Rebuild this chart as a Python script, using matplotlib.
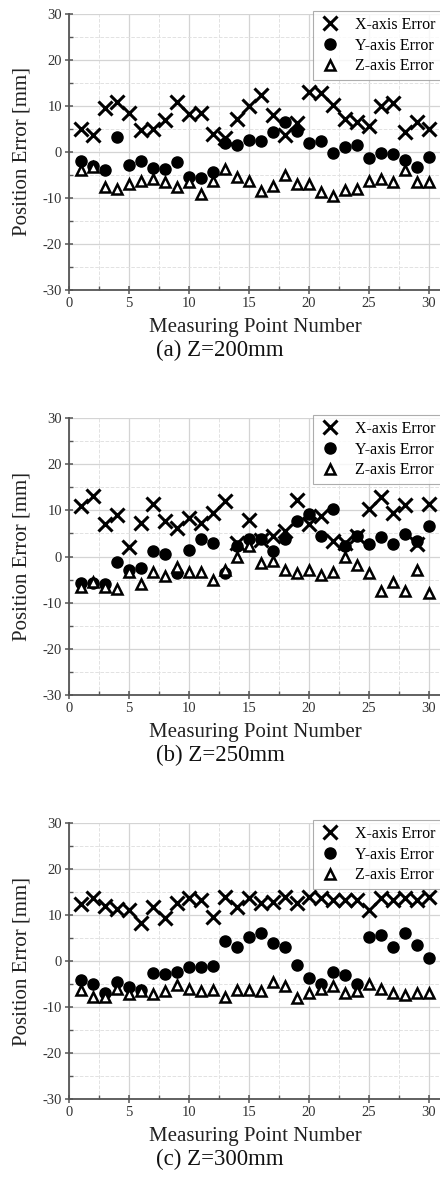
import matplotlib
matplotlib.use("Agg")
import matplotlib.pyplot as plt
from matplotlib.ticker import MultipleLocator

plt.rcParams['font.family'] = ['Liberation Serif', 'DejaVu Serif']
plt.rcParams['axes.unicode_minus'] = False

points = list(range(1, 31))

# Z = 200mm
x_err_a = [5.1, 3.7, 9.6, 10.8, 8.5, 4.8, 4.9, 7.0, 10.8, 8.3, 8.5, 4.0, 3.0, 7.1, 10.1,
           12.3, 8.1, 3.7, 6.2, 13.0, 12.8, 10.3, 7.1, 6.6, 5.7, 9.9, 10.7, 4.4, 6.6, 5.1]
y_err_a = [-2.0, -3.0, -4.0, 3.3, -2.9, -2.0, -3.5, -3.7, -2.2, -5.5, -5.7, -4.4, 2.0, 1.5, 2.6,
           2.4, 4.4, 6.6, 4.6, 2.0, 2.4, -0.2, 1.1, 1.5, -1.3, -0.2, -0.4, -1.8, -3.2, -1.1]
z_err_a = [-4.0, -3.2, -7.7, -8.1, -7.0, -6.3, -5.9, -6.6, -7.6, -6.6, -9.2, -6.3, -3.7, -5.5, -6.3,
           -8.5, -7.4, -5.1, -7.0, -7.0, -8.8, -9.6, -8.3, -8.1, -6.3, -5.9, -6.6, -3.9, -6.6, -6.6]

# Z = 250mm
x_err_b = [11.0, 13.1, 7.1, 9.0, 2.0, 7.3, 11.3, 7.7, 6.2, 8.4, 7.3, 9.5, 12.0, 2.9, 7.8,
           3.5, 4.4, 5.5, 12.2, 7.0, 8.8, 3.3, 2.9, 4.4, 10.2, 12.8, 9.5, 11.2, 2.6, 11.3]
y_err_b = [-5.8, -5.8, -6.0, -1.2, -2.9, -2.4, 1.1, 0.5, -3.6, 1.5, 3.7, 2.9, -3.6, 2.2, 3.7,
           3.7, 1.2, 3.7, 7.7, 9.2, 4.4, 10.3, 2.2, 4.4, 2.6, 4.2, 2.6, 4.9, 3.3, 6.6]
z_err_b = [-6.6, -5.5, -6.6, -7.0, -3.4, -6.0, -3.4, -4.2, -2.2, -3.4, -3.4, -5.1, -2.9, 0.0, 2.2,
           -1.5, -1.0, -2.9, -3.6, -2.9, -3.9, -3.3, 0.0, -1.8, -3.6, -7.5, -5.5, -7.5, -2.9, -8.0]

# Z = 300mm
x_err_c = [12.3, 13.6, 12.0, 11.3, 11.1, 8.2, 11.8, 9.3, 12.6, 13.6, 13.3, 9.6, 14.0, 11.8, 13.8,
           12.5, 12.9, 14.0, 12.7, 14.0, 13.6, 13.3, 13.3, 13.3, 11.1, 13.6, 13.3, 13.6, 13.3, 14.0]
y_err_c = [-4.1, -5.1, -7.0, -4.6, -5.7, -6.2, -2.6, -2.8, -2.3, -1.2, -1.2, -1.1, 4.3, 3.1, 5.3,
           6.0, 4.0, 3.1, -0.8, -3.6, -5.0, -2.5, -3.0, -5.0, 5.3, 5.7, 3.1, 6.0, 3.5, 0.6]
z_err_c = [-6.4, -7.9, -7.9, -6.1, -7.2, -6.6, -7.2, -6.6, -5.3, -6.1, -6.6, -6.2, -7.9, -6.4, -6.4,
           -6.5, -4.5, -5.5, -8.0, -7.0, -6.0, -5.5, -7.0, -6.5, -5.0, -6.0, -7.0, -7.5, -7.0, -7.0]

panels = [
    (x_err_a, y_err_a, z_err_a, '(a) Z=200mm'),
    (x_err_b, y_err_b, z_err_b, '(b) Z=250mm'),
    (x_err_c, y_err_c, z_err_c, '(c) Z=300mm'),
]

W, H = 440, 1191
fig = plt.figure(figsize=(W / 100, H / 100), dpi=100)

# axes box in pixels: left, top, right, bottom
boxes = [(69, 14, 441, 290), (69, 418, 441, 695), (69, 823, 441, 1099)]

for (xe, ye, ze, caption), (l, t, r, b) in zip(panels, boxes):
    ax = fig.add_axes([l / W, 1 - b / H, (r - l) / W, (b - t) / H])
    ax.plot(points, xe, ls='none', marker='x', ms=9.5, mew=2.2, color='black', label='X-axis Error')
    ax.plot(points, ye, ls='none', marker='o', ms=8, color='black', label='Y-axis Error')
    ax.plot(points, ze, ls='none', marker='^', ms=7.5, mew=1.8, mfc='white', mec='black',
            label='Z-axis Error')

    ax.set_xlim(0, 31)
    ax.set_ylim(-30, 30)
    ax.xaxis.set_major_locator(MultipleLocator(5))
    ax.xaxis.set_minor_locator(MultipleLocator(2.5))
    ax.yaxis.set_major_locator(MultipleLocator(10))
    ax.yaxis.set_minor_locator(MultipleLocator(5))
    ax.grid(which='major', color='#d4d4d4', lw=0.9, ls='-')
    ax.grid(which='minor', color='#e2e2e2', lw=0.7, ls='--')
    ax.set_axisbelow(True)

    for side in ['top', 'right']:
        ax.spines[side].set_visible(False)
    for side in ['left', 'bottom']:
        ax.spines[side].set_color('#555555')
        ax.spines[side].set_linewidth(1.3)
    ax.tick_params(which='major', direction='inout', length=6, width=1.1, color='#555555',
                   labelsize=10.5, labelcolor='#333333', pad=2)
    ax.tick_params(which='minor', direction='in', length=3, width=1.0, color='#555555')

    ax.set_xlabel('Measuring Point Number', fontsize=15, color='#222222', labelpad=6)
    ax.set_ylabel('Position Error [mm]', fontsize=15, color='#222222')
    ax.yaxis.set_label_coords(-0.1, 0.5)

    leg = ax.legend(loc='upper right', bbox_to_anchor=(1.0, 1.01), borderaxespad=0,
                    fontsize=11.5, frameon=True, fancybox=False, handletextpad=0.8,
                    labelspacing=0.3, borderpad=0.35, handlelength=1.5)
    leg.get_frame().set_edgecolor('#999999')
    leg.get_frame().set_linewidth(0.8)

    fig.text(0.5, 1 - (b + 60) / H, caption, ha='center', va='center', fontsize=16.5,
             color='#111111')

fig.savefig('out.png', dpi=100)
